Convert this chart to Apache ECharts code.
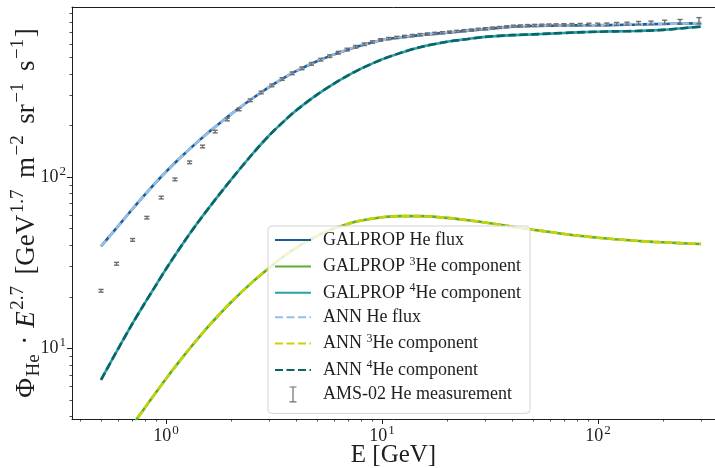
<!DOCTYPE html>
<html>
<head>
<meta charset="utf-8">
<script src="https://cdn.jsdelivr.net/npm/echarts@6/dist/echarts.min.js"></script>
<style>
  html, body { margin: 0; padding: 0; background: #ffffff; }
  #chart { width: 715px; height: 468px; }
</style>
</head>
<body>
<div id="chart"></div>
<script>
// Kinetic energy grid of the model curves [GeV]
const curveEnergy = [0.5, 0.6, 0.7, 0.8, 0.9, 1, 1.2, 1.4, 1.6, 1.8, 2, 2.5, 3, 3.5, 4, 5, 6, 7, 8,
  10, 12, 15, 20, 25, 30, 40, 50, 60, 80, 100, 120, 150, 180, 220, 260, 300];

// GALPROP predictions, flux * E^2.7
const galpropTotal = [39.4, 51.8, 65.2, 79.2, 93.4, 107.5, 134.6, 160.7, 185.8, 209.9, 233.3, 287, 335.7,
  378.4, 415.9, 475.3, 521, 557, 587, 632, 653, 675, 697, 716, 731, 755, 763, 766, 769, 771, 773, 777.5,
  782, 786.5, 789, 792.5];
const galprop3He = [1.8, 2.6, 3.56, 4.52, 5.55, 6.65, 8.95, 11.35, 13.8, 16.2, 18.6, 24.3, 29.5, 34.4,
  38.6, 45.4, 50.1, 53.5, 55.8, 58.3, 59.2, 59.2, 57.8, 56.0, 54.3, 51.4, 49.3, 47.8, 45.6, 44.3, 43.4,
  42.5, 41.9, 41.4, 41.0, 40.7];
const galprop4He = [6.55, 9.95, 14.0, 18.5, 23.5, 29.1, 41.1, 54.1, 67.6, 81.8, 96.6, 135.6, 175, 211,
  245, 303, 352, 394, 430, 487, 528, 574, 617, 641, 659, 675, 682, 689, 700, 706, 710, 713, 719, 731,
  745, 757];

// ANN emulator predictions on the same grid
const annTotal = [39.4, 51.8, 65.2, 79.2, 93.4, 107.5, 134.6, 160.7, 185.8, 209.9, 233.3, 287, 335.7,
  378.4, 415.9, 475.3, 521, 557, 587, 632, 653, 675, 697, 716, 731, 755, 763, 766, 769, 771, 773, 777.5,
  782, 786.5, 789, 792.5];
const ann3He = [1.8, 2.6, 3.56, 4.52, 5.55, 6.65, 8.95, 11.35, 13.8, 16.2, 18.6, 24.3, 29.5, 34.4,
  38.6, 45.4, 50.1, 53.5, 55.8, 58.3, 59.2, 59.2, 57.8, 56.0, 54.3, 51.4, 49.3, 47.8, 45.6, 44.3, 43.4,
  42.5, 41.9, 41.4, 41.0, 40.7];
const ann4He = [6.55, 9.95, 14.0, 18.5, 23.5, 29.1, 41.1, 54.1, 67.6, 81.8, 96.6, 135.6, 175, 211,
  245, 303, 352, 394, 430, 487, 528, 574, 617, 641, 659, 675, 682, 689, 700, 706, 710, 713, 719, 731,
  745, 757];

// AMS-02 helium measurement: energy, flux * E^2.7, half error
const amsEnergy = [0.50, 0.59, 0.70, 0.815, 0.95, 1.10, 1.285, 1.476, 1.688, 1.921, 2.177, 2.455, 2.758,
  3.089, 3.447, 3.837, 4.257, 4.712, 5.211, 5.720, 6.279, 6.891, 7.552, 8.264, 9.03, 9.85, 10.73, 11.70,
  12.72, 13.81, 14.99, 16.22, 17.56, 19.01, 20.56, 22.21, 23.97, 25.88, 27.90, 30.09, 32.43, 34.97, 37.68,
  40.6, 43.72, 47.14, 50.87, 54.91, 59.25, 64.0, 69.5, 75.7, 82.7, 90.7, 99.7, 109.9, 121.9, 136.3, 154.0,
  175.9, 203.5, 239.7, 293.4];
const amsFlux = [21.7, 31.2, 43.0, 58.0, 76.0, 97.0, 122, 151, 184.6, 217, 248.6, 281, 312, 343.4, 374,
  403.8, 431.7, 458.6, 485.3, 508.6, 533, 556, 577, 597, 615, 633, 644, 654, 663, 671, 679, 685, 691, 697,
  703, 710, 717, 723, 730, 736, 742, 748, 755, 761, 764, 767, 769, 771, 772.5, 774, 775, 776.5, 777.5, 779,
  779, 780, 785, 787, 794, 797, 804, 808, 820];
const amsErr = [0.4, 0.6, 0.8, 1.0, 1.4, 1.8, 2.2, 2.7, 3.3, 3.9, 4.5, 5.1, 5.6, 6.2, 6.7, 7.3, 7.8, 8.3,
  8.7, 9.2, 9.6, 10, 10, 10, 10, 10, 10, 10, 10, 10, 10, 10, 10, 10, 10, 10, 10, 10, 10, 10, 10, 10, 10,
  10.5, 10.5, 11, 11, 11, 11.5, 11.5, 12, 12, 12.5, 13, 13.5, 14, 15, 16, 17, 18, 21, 25, 34];

// Axis ticks
const xMajorTicks = [1, 10, 100];
const xMinorTicks = [0.4, 0.5, 0.6, 0.7, 0.8, 0.9, 2, 3, 4, 5, 6, 7, 8, 9, 20, 30, 40, 50, 60, 70, 80, 90,
  200, 300];
const yMajorTicks = [10, 100];
const yMinorTicks = [4, 5, 6, 7, 8, 9, 20, 30, 40, 50, 60, 70, 80, 90, 200, 300, 400, 500, 600, 700, 800, 900];

// Axis ranges
const xRange = [0.367, 348];
const yRange = [3.87, 985];

const SERIF = '"Liberation Serif", "DejaVu Serif", serif';
const INK = '#1e1e1e';

function pairs(xs, ys) { return xs.map((x, i) => [x, ys[i]]); }

function curve(name, values, color, dashed, z) {
  return {
    type: 'line', name: name, data: pairs(curveEnergy, values),
    xAxisIndex: 0, yAxisIndex: 0,
    showSymbol: false, symbol: 'none', smooth: 0.3,
    lineStyle: { color: color, width: 2.6, type: dashed ? [8, 3.5] : 'solid', cap: 'butt' },
    itemStyle: { color: color },
    z: z, silent: true
  };
}

const tickRich = {
  b: { fontFamily: SERIF, fontSize: 18, color: INK, lineHeight: 24, verticalAlign: 'middle' },
  sup: { fontFamily: SERIF, fontSize: 13, color: INK, lineHeight: 14, verticalAlign: 'top', padding: [0, 0, 0, 1] }
};

const legendText = {
  'GALPROP He flux': '{b|GALPROP He flux}',
  'GALPROP 3He component': '{b|GALPROP }{sup|3}{b|He component}',
  'GALPROP 4He component': '{b|GALPROP }{sup|4}{b|He component}',
  'ANN He flux': '{b|ANN He flux}',
  'ANN 3He component': '{b|ANN }{sup|3}{b|He component}',
  'ANN 4He component': '{b|ANN }{sup|4}{b|He component}',
  'AMS-02 He measurement': '{b|AMS-02 He measurement}'
};

const chart = echarts.init(document.getElementById('chart'), null, { renderer: 'canvas' });

const logLabel = v => '{b|10}{sup|' + Math.round(Math.log10(v)) + '}';
const hiddenMarker = { opacity: 0 };

chart.setOption({
  animation: false,
  backgroundColor: '#ffffff',
  grid: { left: 72, right: 0, top: 7, bottom: 49, containLabel: false, outerBoundsMode: 'none', show: false },
  legend: {
    orient: 'vertical', left: 268, top: 226,
    padding: [5, 9, 10, 6],
    itemWidth: 36, itemHeight: 16, itemGap: 6.4,
    backgroundColor: 'rgba(255,255,255,0.8)',
    borderColor: '#d4d4d4', borderWidth: 1, borderRadius: 4,
    selectedMode: false,
    textStyle: {
      fontFamily: SERIF, fontSize: 18, color: INK, padding: [0, 0, 0, 7],
      rich: {
        b: { fontFamily: SERIF, fontSize: 18, color: INK, lineHeight: 22, verticalAlign: 'middle' },
        sup: { fontFamily: SERIF, fontSize: 12, color: INK, lineHeight: 13, verticalAlign: 'top' }
      }
    },
    formatter: name => legendText[name] || name,
    data: [
      { name: 'GALPROP He flux', itemStyle: hiddenMarker },
      { name: 'GALPROP 3He component', itemStyle: hiddenMarker },
      { name: 'GALPROP 4He component', itemStyle: hiddenMarker },
      { name: 'ANN He flux', itemStyle: hiddenMarker },
      { name: 'ANN 3He component', itemStyle: hiddenMarker },
      { name: 'ANN 4He component', itemStyle: hiddenMarker },
      { name: 'AMS-02 He measurement',
        icon: 'path://M0,0H7V1.2H4.1V14.8H7V16H0V14.8H2.9V1.2H0Z',
        itemStyle: { color: '#6e6e6e', opacity: 1 } }
    ]
  },
  xAxis: [
    {
      type: 'log', logBase: 10, min: xRange[0], max: xRange[1], position: 'bottom',
      axisLine: { show: true, lineStyle: { color: INK, width: 1 } },
      axisTick: { show: true, customValues: xMajorTicks, length: 5, lineStyle: { color: INK, width: 1 } },
      axisLabel: { show: true, customValues: xMajorTicks, formatter: logLabel, margin: 5, rich: tickRich },
      splitLine: { show: false }, minorTick: { show: false }, minorSplitLine: { show: false },
      name: 'E [GeV]', nameLocation: 'middle', nameGap: 24, nameMoveOverlap: false,
      nameTextStyle: { fontFamily: SERIF, fontSize: 25, color: INK, verticalAlign: 'top' }
    },
    {
      type: 'log', logBase: 10, min: xRange[0], max: xRange[1], position: 'bottom',
      axisLine: { show: false },
      axisTick: { show: true, customValues: xMinorTicks, length: 2.5, lineStyle: { color: INK, width: 0.8 } },
      axisLabel: { show: false }, splitLine: { show: false }
    },
    {
      type: 'log', logBase: 10, min: xRange[0], max: xRange[1], position: 'top',
      axisLine: { show: true, lineStyle: { color: INK, width: 1 } },
      axisTick: { show: false }, axisLabel: { show: false }, splitLine: { show: false }
    }
  ],
  yAxis: [
    {
      type: 'log', logBase: 10, min: yRange[0], max: yRange[1], position: 'left',
      axisLine: { show: true, lineStyle: { color: INK, width: 1 } },
      axisTick: { show: true, customValues: yMajorTicks, length: 5, lineStyle: { color: INK, width: 1 } },
      axisLabel: { show: true, customValues: yMajorTicks, formatter: logLabel, margin: 6, rich: tickRich },
      splitLine: { show: false }, minorTick: { show: false },
      name: '{m|Φ}{sub|He}{op|·}{i|E}{sup|2.7}{sp|[GeV}{sup|1.7}{sp|m}{sup|−2}{sp|sr}{sup|−1}{sp|s}{sup|−1}{m|]}',
      nameLocation: 'middle', nameGap: 28, nameRotate: 90, nameMoveOverlap: false,
      nameTextStyle: {
        fontFamily: SERIF, fontSize: 27, color: INK,
        rich: {
          m: { fontFamily: SERIF, fontSize: 27, color: INK, lineHeight: 35, verticalAlign: 'middle' },
          sp: { fontFamily: SERIF, fontSize: 27, color: INK, lineHeight: 35, verticalAlign: 'middle', padding: [0, 0, 0, 10] },
          op: { fontFamily: SERIF, fontSize: 27, color: INK, lineHeight: 35, verticalAlign: 'middle', padding: [0, 8, 0, 8] },
          i: { fontFamily: SERIF, fontSize: 27, fontStyle: 'italic', color: INK, lineHeight: 35, verticalAlign: 'middle' },
          sup: { fontFamily: SERIF, fontSize: 19, color: INK, lineHeight: 20, verticalAlign: 'top', padding: [0, 1.5, 0, 1.5] },
          sub: { fontFamily: SERIF, fontSize: 19, color: INK, lineHeight: 20, verticalAlign: 'bottom', padding: [0, 1.5, 0, 1.5] }
        }
      }
    },
    {
      type: 'log', logBase: 10, min: yRange[0], max: yRange[1], position: 'left',
      axisLine: { show: false },
      axisTick: { show: true, customValues: yMinorTicks, length: 2.5, lineStyle: { color: INK, width: 0.8 } },
      axisLabel: { show: false }, splitLine: { show: false }
    }
  ],
  series: [
    curve('GALPROP He flux', galpropTotal, '#1c5d99', false, 2),
    curve('GALPROP 3He component', galprop3He, '#5cae32', false, 2),
    curve('GALPROP 4He component', galprop4He, '#23a3a8', false, 2),
    curve('ANN He flux', annTotal, '#94bfe6', true, 3),
    curve('ANN 3He component', ann3He, '#c8d400', true, 3),
    curve('ANN 4He component', ann4He, '#0d6466', true, 3),
    {
      type: 'custom', name: 'AMS-02 He measurement',
      xAxisIndex: 0, yAxisIndex: 0, z: 5, silent: true,
      itemStyle: { color: '#6e6e6e' },
      data: amsEnergy.map((e, i) => [e, amsFlux[i], amsFlux[i] - amsErr[i], amsFlux[i] + amsErr[i]]),
      encode: { x: 0, y: [1, 2, 3] },
      renderItem: function (params, api) {
        const e = api.value(0);
        const lo = api.coord([e, api.value(2)]);
        const hi = api.coord([e, api.value(3)]);
        const half = 2.6;
        const st = { stroke: '#6e6e6e', lineWidth: 1.4 };
        return {
          type: 'group',
          children: [
            { type: 'line', shape: { x1: lo[0], y1: lo[1], x2: hi[0], y2: hi[1] }, style: st },
            { type: 'line', shape: { x1: lo[0] - half, y1: lo[1], x2: lo[0] + half, y2: lo[1] }, style: st },
            { type: 'line', shape: { x1: hi[0] - half, y1: hi[1], x2: hi[0] + half, y2: hi[1] }, style: st }
          ]
        };
      }
    }
  ]
});
</script>
</body>
</html>
